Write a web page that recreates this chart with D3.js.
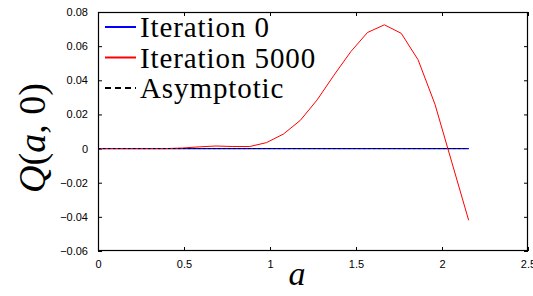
<!DOCTYPE html>
<html>
<head>
<meta charset="UTF-8">
<script src="https://cdn.jsdelivr.net/npm/d3@7/dist/d3.min.js"></script>
<style>
  body { margin: 0; background: #fff; }
  .tick text { font-family: "Liberation Sans", Arial, sans-serif; font-size: 11px; fill: #000; }
  .serif { font-family: "Times New Roman", "Liberation Serif", "Nimbus Roman", "Noto Serif", "FreeSerif", "DejaVu Serif", serif; }
  .legend text { font-size: 29px; letter-spacing: 0.9px; }
</style>
</head>
<body>
<svg id="vis" width="533" height="296"></svg>
<script>
// values
const aValues = [0, 0.098, 0.196, 0.294, 0.392, 0.49, 0.588, 0.686, 0.784, 0.882, 0.98, 1.078,
  1.176, 1.274, 1.372, 1.47, 1.567, 1.665, 1.763, 1.861, 1.959, 2.057, 2.155];
const iter0 = [0, 0, 0, 0, 0, 0, 0, 0, 0, 0, 0, 0, 0, 0, 0, 0, 0, 0, 0, 0, 0, 0, 0];
const iter5000 = [0, 0, 0, 0, 0, 0.0003, 0.001, 0.0015, 0.0012, 0.0012, 0.0035, 0.0085,
  0.0165, 0.0285, 0.043, 0.0568, 0.068, 0.0725, 0.0675, 0.052, 0.026, -0.008, -0.042];
const asymptotic = [0, 0, 0, 0, 0, 0, 0, 0, 0, 0, 0, 0, 0, 0, 0, 0, 0, 0, 0, 0, 0, 0, 0];
const xTicks = [0, 0.5, 1, 1.5, 2, 2.5];
const yTicks = [-0.06, -0.04, -0.02, 0, 0.02, 0.04, 0.06, 0.08];
const legendNames = ["Iteration 0", "Iteration 5000", "Asymptotic"];

let svg = d3.select("#vis");
let width = +svg.attr("width");
let height = +svg.attr("height");
let margin = { top: 12, right: 5, bottom: 45, left: 98 };

let x = d3.scaleLinear().domain([0, 2.5]).range([margin.left, width - margin.right]);
let y = d3.scaleLinear().domain([-0.06, 0.08]).range([height - margin.bottom, margin.top]);

let fmt = d => d === 0 ? "0" : d3.format("")(+d.toFixed(2));

// axes with inward ticks, mirrored on top/right
svg.append("g")
    .attr("transform", "translate(0," + (height - margin.bottom) + ")")
    .call(d3.axisBottom(x).tickValues(xTicks).tickSize(-4).tickPadding(9).tickFormat(fmt))
    .call(g => g.select(".domain").remove());
svg.append("g")
    .attr("transform", "translate(0," + margin.top + ")")
    .call(d3.axisTop(x).tickValues(xTicks).tickSize(-4).tickFormat(""))
    .call(g => g.select(".domain").remove());
svg.append("g")
    .attr("transform", "translate(" + margin.left + ",0)")
    .call(d3.axisLeft(y).tickValues(yTicks).tickSize(-4).tickPadding(10).tickFormat(fmt))
    .call(g => g.select(".domain").remove());
svg.append("g")
    .attr("transform", "translate(" + (width - margin.right) + ",0)")
    .call(d3.axisRight(y).tickValues(yTicks).tickSize(-4).tickFormat(""))
    .call(g => g.select(".domain").remove());

svg.append("rect")
    .attr("x", margin.left + 0.5).attr("y", margin.top + 0.5)
    .attr("width", width - margin.left - margin.right - 1)
    .attr("height", height - margin.top - margin.bottom - 1)
    .attr("fill", "none").attr("stroke", "#000").attr("stroke-width", 1.2);

let line = d3.line().x((d, i) => x(aValues[i])).y(d => y(d));

let series = [
  { values: iter0, color: "#0000ff", width: 1.3, dash: null },
  { values: iter5000, color: "#ff0000", width: 1, dash: null },
  { values: asymptotic, color: "#000", width: 1, dash: "2.5,2.5" }
];

svg.selectAll(".series")
    .data(series)
    .join("path")
    .attr("class", "series")
    .attr("d", d => line(d.values))
    .attr("fill", "none")
    .attr("stroke", d => d.color)
    .attr("stroke-width", d => d.width)
    .attr("stroke-dasharray", d => d.dash);

// legend
let legend = svg.append("g").attr("class", "legend serif");
legendNames.forEach((name, i) => {
  let yy = 27 + i * 30.5;
  legend.append("line")
      .attr("x1", 105).attr("x2", 136).attr("y1", yy).attr("y2", yy)
      .attr("stroke", series[i].color).attr("stroke-width", 2)
      .attr("stroke-dasharray", i === 2 ? "6,4" : null);
  legend.append("text")
      .attr("x", 140).attr("y", yy + 10)
      .text(name);
});

// axis titles
svg.append("text")
    .attr("class", "serif")
    .attr("x", 297).attr("y", 285)
    .attr("text-anchor", "middle")
    .attr("font-style", "italic")
    .attr("font-size", 34)
    .text("a");

let yl = svg.append("text")
    .attr("class", "serif")
    .attr("transform", "translate(45,138) rotate(-90)")
    .attr("text-anchor", "middle")
    .attr("font-size", 38);
yl.append("tspan").attr("font-style", "italic").text("Q");
yl.append("tspan").text("(");
yl.append("tspan").attr("font-style", "italic").text("a");
yl.append("tspan").text(", 0)");
</script>
</body>
</html>
